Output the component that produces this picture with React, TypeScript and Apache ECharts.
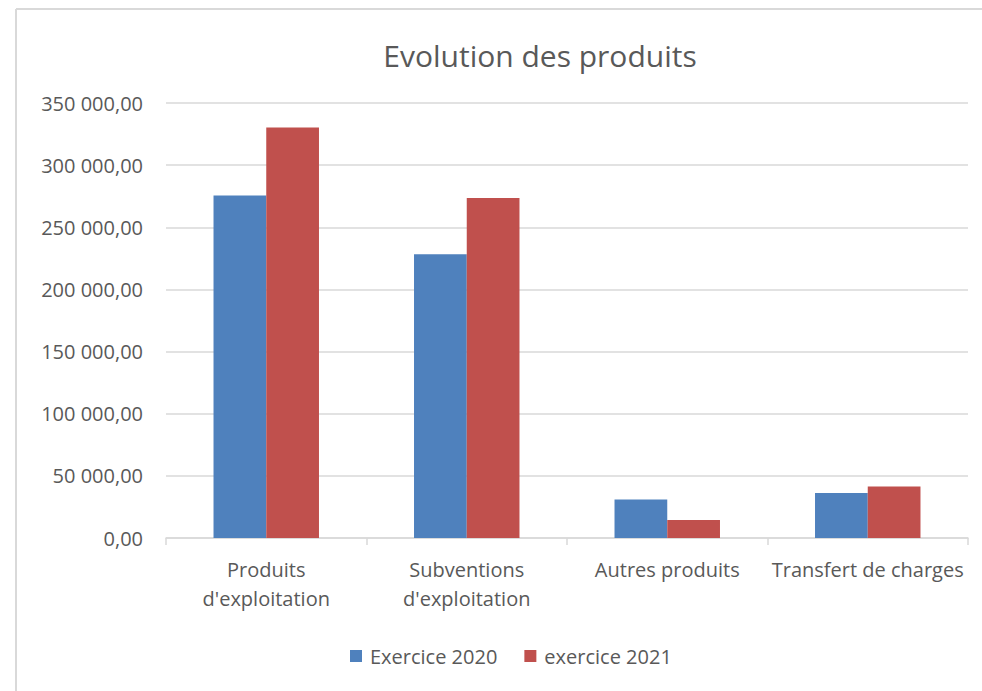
import React, { useEffect, useRef } from "react";
import * as echarts from "echarts";

const categories = ["Produits\nd'exploitation", "Subventions\nd'exploitation", "Autres produits", "Transfert de charges"];
const series2020 = [275500, 228300, 30900, 36200];
const series2021 = [330200, 273600, 14500, 41400];
const seriesNames = ["Exercice 2020", "exercice 2021"];
const yTickValues = [0, 50000, 100000, 150000, 200000, 250000, 300000, 350000];
const yTickLabels = ["0,00", "50 000,00", "100 000,00", "150 000,00", "200 000,00", "250 000,00", "300 000,00", "350 000,00"];
const titleText = "Evolution des produits";

const FONT = "'Open Sans', 'Noto Sans', sans-serif";
const TEXT = "#595959";
const GRID = "#d9d9d9";

export default function App() {
  const ref = useRef<HTMLDivElement>(null);
  useEffect(() => {
    if (!ref.current) return;
    const chart = echarts.init(ref.current, null, { renderer: "svg" });
    chart.setOption({
      animation: false,
      backgroundColor: "#ffffff",
      title: {
        text: titleText,
        left: 535,
        textAlign: "center",
        top: 35,
        textStyle: { fontFamily: FONT, fontSize: 30, fontWeight: "normal", color: TEXT },
      },
      legend: {
        data: seriesNames,
        left: 345,
        top: 641,
        icon: "rect",
        itemWidth: 12,
        itemHeight: 12,
        itemGap: 27,
        textStyle: { fontFamily: FONT, fontSize: 20, color: TEXT, padding: [0, 0, 0, 3] },
      },
      grid: { left: 166, right: 14, top: 103, bottom: 153, containLabel: false },
      xAxis: {
        type: "category",
        data: categories,
        axisLine: { lineStyle: { color: GRID, width: 1.5 } },
        axisTick: { show: true, length: 7, lineStyle: { color: GRID, width: 1.5 } },
        axisLabel: { fontFamily: FONT, fontSize: 20, color: TEXT, margin: 17, lineHeight: 29, interval: 0 },
      },
      yAxis: {
        type: "value",
        min: 0,
        max: 350000,
        interval: 50000,
        axisLine: { show: false },
        axisTick: { show: false },
        splitLine: { lineStyle: { color: GRID, width: 1.5 } },
        axisLabel: {
          fontFamily: FONT,
          fontSize: 20,
          color: TEXT,
          margin: 23,
          formatter: (v: number) => {
            const i = yTickValues.indexOf(v);
            return i >= 0 ? yTickLabels[i] : "";
          },
        },
      },
      series: [
        {
          name: seriesNames[0],
          type: "bar",
          data: series2020,
          barWidth: "26.3%",
          barGap: "0%",
          itemStyle: { color: "#4f81bd" },
        },
        {
          name: seriesNames[1],
          type: "bar",
          data: series2021,
          barWidth: "26.3%",
          barGap: "0%",
          itemStyle: { color: "#c0504d" },
        },
      ],
      graphic: [
        { type: "line", shape: { x1: 16, y1: 9, x2: 982, y2: 9 }, style: { stroke: GRID, lineWidth: 2 } },
        { type: "line", shape: { x1: 16, y1: 9, x2: 16, y2: 691 }, style: { stroke: GRID, lineWidth: 2 } },
      ],
    });
    return () => chart.dispose();
  }, []);
  return <div ref={ref} style={{ position: "fixed", left: 0, top: 0, width: 982, height: 691 }} />;
}
